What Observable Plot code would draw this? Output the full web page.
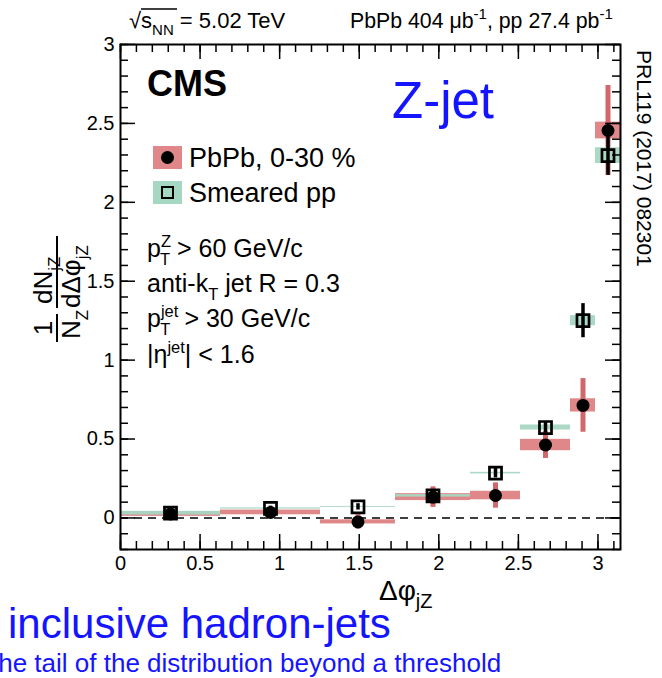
<!DOCTYPE html>
<html><head><meta charset="utf-8">
<script src="https://cdn.jsdelivr.net/npm/d3@7"></script>
<script src="https://cdn.jsdelivr.net/npm/@observablehq/plot@0.6"></script>
<style>body{margin:0;background:#fff} svg{display:block}</style>
</head><body><div id="chart"></div>
<script>
// Δφ_jZ bin edges in units of π
const edgesOverPi = [0, 0.2, 0.4, 0.55, 0.7, 0.8, 0.9, 0.95, 1.0];
// PbPb 0-30 %
const pbpbValue = [0.025, 0.035, -0.025, 0.132, 0.142, 0.462, 0.713, 2.455];
const pbpbStat  = [0.030, 0.030, 0.045, 0.065, 0.080, 0.085, 0.170, 0.285];
const pbpbSys   = [0.015, 0.015, 0.013, 0.022, 0.027, 0.036, 0.042, 0.053];
// Smeared pp
const ppValue = [0.030, 0.060, 0.070, 0.140, 0.284, 0.573, 1.250, 2.296];
const ppStat  = [0.010, 0.015, 0.020, 0.025, 0.030, 0.035, 0.108, 0.125];
const ppSys   = [0.012, 0.004, 0.003, 0.008, 0.005, 0.016, 0.032, 0.050];
// axis ticks
const xMajorTicks = [0, 0.5, 1, 1.5, 2, 2.5, 3];
const yMajorTicks = [0, 0.5, 1, 1.5, 2, 2.5, 3];
const xMinorTicks = d3.range(0, 3.15, 0.1).map(v => +v.toFixed(2));
const yMinorTicks = d3.range(-0.2, 3.001, 0.1).map(v => +v.toFixed(2));

const RED_BOX = "#e0878a", RED_BAR = "#d1666b", GREEN_BOX = "#a6d7c3";
const FONT = "'Liberation Sans', Arial, Helvetica, sans-serif";
const BLUE = "#1414ff";

const rows = pbpbValue.map((v, i) => ({
  lo: edgesOverPi[i] * Math.PI,
  hi: edgesOverPi[i + 1] * Math.PI,
  c: (edgesOverPi[i] + edgesOverPi[i + 1]) / 2 * Math.PI,
  a: v, aStat: pbpbStat[i], aSys: pbpbSys[i],
  p: ppValue[i], pStat: ppStat[i], pSys: ppSys[i]
}));

const W = 662, H = 678, mL = 120, mR = 42, mT = 44, mB = 129;
const pw = W - mL - mR, ph = H - mT - mB;

const plot = Plot.plot({
  width: W, height: H,
  marginLeft: mL, marginRight: mR, marginTop: mT, marginBottom: mB,
  style: {fontFamily: FONT, fontSize: "20px", color: "black", background: "white", overflow: "visible"},
  x: {domain: [0, Math.PI], axis: null},
  y: {domain: [-0.2, 3], axis: null},
  marks: [
    Plot.rectY(rows, {x1: "lo", x2: "hi", y1: d => d.a - d.aSys, y2: d => d.a + d.aSys, fill: RED_BOX}),
    Plot.ruleX(rows, {x: "c", y1: d => d.a - d.aStat, y2: d => d.a + d.aStat, stroke: RED_BAR, strokeWidth: 5}),
    Plot.rectY(rows, {x1: "lo", x2: "hi", y1: d => d.p - d.pSys, y2: d => d.p + d.pSys, fill: GREEN_BOX, fillOpacity: 0.95}),
    Plot.ruleX(rows, {x: "c", y1: d => d.p - d.pStat, y2: d => d.p + d.pStat, stroke: "black", strokeWidth: 3.5}),
    Plot.ruleY([0], {stroke: "black", strokeWidth: 1.5, strokeDasharray: "8,6"}),
    Plot.dot(rows, {x: "c", y: "a", r: 6.5, fill: "black", stroke: "none"}),
    Plot.dot(rows, {x: "c", y: "p", r: 6.8, symbol: "square", fill: "none", stroke: "black", strokeWidth: 2.7}),
    // inward ticks, all four sides
    Plot.tickX(xMinorTicks, {x: d => d, insetTop: ph - 8, stroke: "black", strokeWidth: 1.5}),
    Plot.tickX(xMajorTicks, {x: d => d, insetTop: ph - 15, stroke: "black", strokeWidth: 1.5}),
    Plot.tickX(xMinorTicks, {x: d => d, insetBottom: ph - 8, stroke: "black", strokeWidth: 1.5}),
    Plot.tickX(xMajorTicks, {x: d => d, insetBottom: ph - 15, stroke: "black", strokeWidth: 1.5}),
    Plot.tickY(yMinorTicks, {y: d => d, insetRight: pw - 8, stroke: "black", strokeWidth: 1.5}),
    Plot.tickY(yMajorTicks, {y: d => d, insetRight: pw - 15, stroke: "black", strokeWidth: 1.5}),
    Plot.tickY(yMinorTicks, {y: d => d, insetLeft: pw - 8, stroke: "black", strokeWidth: 1.5}),
    Plot.tickY(yMajorTicks, {y: d => d, insetLeft: pw - 15, stroke: "black", strokeWidth: 1.5}),
    Plot.frame({stroke: "black", strokeWidth: 2}),
    Plot.axisX(xMajorTicks, {tickSize: 0, tickPadding: 6, fontSize: 20, label: null, tickFormat: d => String(d)}),
    Plot.axisY(yMajorTicks, {tickSize: 0, tickPadding: 6, fontSize: 20, label: null, tickFormat: d => String(d)})
  ]
});
document.getElementById("chart").appendChild(plot);

// ---------- annotations ----------
const svg = d3.select(plot);
const ann = svg.append("g").attr("font-family", FONT).attr("fill", "black").attr("text-anchor", "start");

function rich(parent, x, y, size, parts, attrs = {}) {
  const t = parent.append("text").attr("x", x).attr("y", y).attr("font-size", size);
  for (const [k, v] of Object.entries(attrs)) t.attr(k, v);
  for (const p of parts) {
    const s = t.append("tspan").text(typeof p === "string" ? p : p.t);
    if (typeof p === "string") { s.attr("y", y); continue; }
    const fs = p.fs || (p.sup || p.sub ? size * 0.66 : size);
    s.attr("font-size", fs);
    s.attr("y", y + (p.sup ? -size * 0.42 : p.sub ? size * 0.3 : 0));
    if (p.dx) s.attr("dx", p.dx);
  }
  return t;
}

// top line
rich(ann, 129, 28, 22, ["√", "s", {t: "NN", sub: true, fs: 15}, " = 5.02 TeV"]);
ann.append("line").attr("x1", 141).attr("x2", 177).attr("y1", 9).attr("y2", 9).attr("stroke", "black").attr("stroke-width", 1.5);
rich(ann, 350, 28, 21.3, ["PbPb 404 μb", {t: "-1", sup: true, fs: 15}, ", pp 27.4 pb", {t: "-1", sup: true, fs: 15}]);

// right reference
ann.append("text").attr("transform", "translate(637,50) rotate(90)")
  .attr("font-size", 21).text("PRL119 (2017) 082301");

// CMS + Z-jet
ann.append("text").attr("x", 147).attr("y", 96).attr("font-size", 36).attr("font-weight", "bold").text("CMS");
ann.append("text").attr("x", 392).attr("y", 118).attr("font-size", 51).attr("fill", BLUE).text("Z-jet");

// legend
ann.append("rect").attr("x", 153).attr("y", 146).attr("width", 29).attr("height", 23).attr("fill", RED_BOX);
ann.append("circle").attr("cx", 167.5).attr("cy", 157.5).attr("r", 6.5).attr("fill", "black");
ann.append("rect").attr("x", 153).attr("y", 181).attr("width", 29).attr("height", 23).attr("fill", GREEN_BOX);
ann.append("rect").attr("x", 162).attr("y", 187).attr("width", 11).attr("height", 11).attr("fill", "none").attr("stroke", "black").attr("stroke-width", 2);
ann.append("text").attr("x", 189).attr("y", 167).attr("font-size", 27).text("PbPb, 0-30 %");
ann.append("text").attr("x", 189).attr("y", 202).attr("font-size", 27).text("Smeared pp");

// selection text
const IS = 25;
rich(ann, 147, 257, IS, ["p", {t: "Z", sup: true}, {t: "T", sub: true, dx: -11}, " > 60 GeV/c"]);
rich(ann, 147, 292, IS, ["anti-k", {t: "T", sub: true}, " jet R = 0.3"]);
rich(ann, 147, 327, IS, ["p", {t: "jet", sup: true}, {t: "T", sub: true, dx: -18}, {t: " > 30 GeV/c", dx: 7}]);
rich(ann, 147, 363, IS, ["|η", {t: "jet", sup: true}, "| < 1.6"]);

// y label (rotated fractions)
const yl = ann.append("g").attr("transform", "translate(57,298) rotate(-90)").attr("font-size", 26);
// 1/N_Z
yl.append("text").attr("x", -30).attr("y", -5).attr("text-anchor", "middle").text("1");
yl.append("line").attr("x1", -44).attr("x2", -16).attr("y1", 0).attr("y2", 0).attr("stroke", "black").attr("stroke-width", 2);
rich(yl, -41, 23, 26, ["N", {t: "Z", sub: true, fs: 17}]);
// dN_jZ / dΔφ_jZ
rich(yl, -6, -5, 26, ["dN", {t: "jZ", sub: true, fs: 17}]);
yl.append("line").attr("x1", -10).attr("x2", 62).attr("y1", 0).attr("y2", 0).attr("stroke", "black").attr("stroke-width", 2);
rich(yl, -10, 23, 26, ["dΔφ", {t: "jZ", sub: true, fs: 17}]);

// x label
rich(ann, 379, 600, 28, ["Δφ", {t: "jZ", sub: true, fs: 20}]);

// blue slide text
ann.append("text").attr("x", 8).attr("y", 638).attr("font-size", 42).attr("fill", BLUE).text("inclusive hadron-jets");
ann.append("text").attr("x", -9).attr("y", 672).attr("font-size", 26).attr("fill", BLUE).text("the tail of the distribution beyond a threshold");
</script></body></html>
